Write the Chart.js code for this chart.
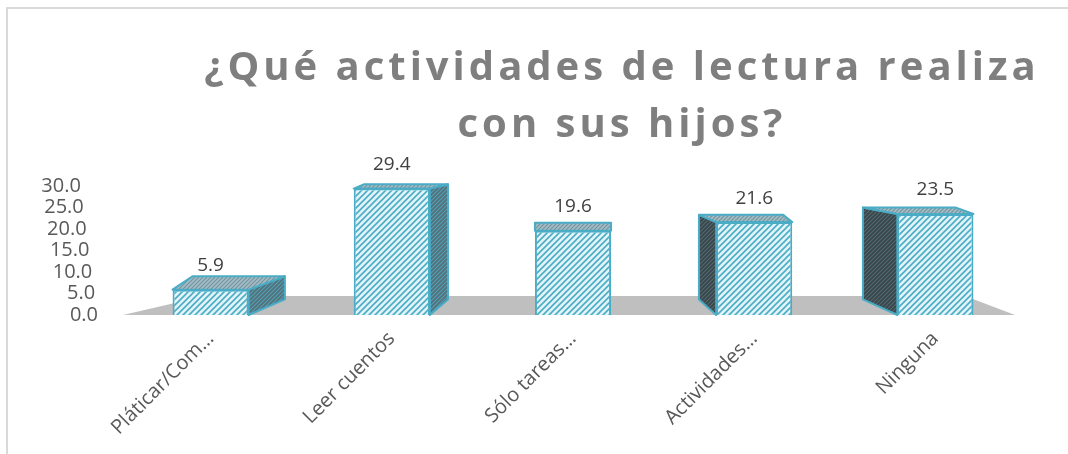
<!DOCTYPE html>
<html>
<head>
<meta charset="utf-8">
<script src="https://cdn.jsdelivr.net/npm/chart.js@4.4.0/dist/chart.umd.min.js"></script>
<style>
  html, body { margin: 0; padding: 0; background: #fff; }
  #wrap { width: 1068px; height: 454px; position: relative; }
</style>
</head>
<body>
<div id="wrap"><canvas id="myChart"></canvas></div>
<script>
// datos del grafico
const categories = ['Pláticar/Com…', 'Leer cuentos', 'Sólo tareas…', 'Actividades…', 'Ninguna'];
const values = [5.9, 29.4, 19.6, 21.6, 23.5];
const yTicks = [0, 5, 10, 15, 20, 25, 30];
const titleLines = ['¿Qué actividades de lectura realiza', 'con sus hijos?'];

const teal = '#4bacc6';

// pattern rayado diagonal
function hatch(bg, fg, size, lw) {
    const c = document.createElement('canvas');
    c.width = size; c.height = size;
    const g = c.getContext('2d');
    g.fillStyle = bg;
    g.fillRect(0, 0, size, size);
    g.strokeStyle = fg;
    g.lineWidth = lw;
    g.beginPath();
    g.moveTo(0, size); g.lineTo(size, 0);
    g.moveTo(-1, 1); g.lineTo(1, -1);
    g.moveTo(size - 1, size + 1); g.lineTo(size + 1, size - 1);
    g.stroke();
    return g.createPattern(c, 'repeat');
}

const ctx = document.getElementById('myChart').getContext('2d');
const frontFill = hatch('#e2f4f8', teal, 6, 1.6);
const rightFill = hatch('#56707a', '#4e9fb5', 4, 1.2);
const leftFill = hatch('#3a4449', '#4f6a73', 4, 1.2);
const topFill = hatch('#a8bcc3', '#6e96a3', 4, 1.2);

// profundidad aproximada tipo excel 3D
function depth(cx, y, area) {
    const mid = (area.left + area.right) / 2;
    const d = cx - mid;
    return {
        dxL: -0.075 * d - 0.02 * Math.abs(d),
        dxR: -0.075 * d + 0.025 * Math.abs(d),
        dy: -(4 + 0.09 * (y - area.top))
    };
}

function poly(c, pts, fill) {
    c.beginPath();
    c.moveTo(pts[0][0], pts[0][1]);
    for (let i = 1; i < pts.length; i++) c.lineTo(pts[i][0], pts[i][1]);
    c.closePath();
    c.fillStyle = fill;
    c.fill();
    c.stroke();
}

const box3d = {
    id: 'box3d',
    beforeDraw(chart) {
        const c = chart.ctx;
        c.save();
        c.strokeStyle = '#d9d9d9';
        c.lineWidth = 2;
        c.strokeRect(7, 8, chart.width + 20, chart.height + 20);

        // titulo
        c.fillStyle = '#7f7f7f';
        c.font = 'bold 40px "Open Sans"';
        c.letterSpacing = '4px';
        c.textAlign = 'center';
        c.textBaseline = 'alphabetic';
        c.fillText(titleLines[0], 622, 80);
        c.fillText(titleLines[1], 622, 137);
        c.restore();
    },
    beforeDatasetsDraw(chart) {
        const c = chart.ctx;
        const a = chart.chartArea;
        c.save();
        // piso
        c.fillStyle = '#bfbfbf';
        c.beginPath();
        c.moveTo(a.left + 3, a.bottom);
        c.lineTo(a.left + 85, a.bottom - 19);
        c.lineTo(a.right - 61, a.bottom - 19);
        c.lineTo(a.right - 11, a.bottom);
        c.closePath();
        c.fill();

        c.strokeStyle = teal;
        c.lineWidth = 2;
        c.lineJoin = 'round';
        chart.getDatasetMeta(0).data.forEach((bar) => {
            const l = bar.x - bar.width / 2, r = bar.x + bar.width / 2;
            const t = bar.y, b = bar.base;
            const dt = depth(bar.x, t, a), db = depth(bar.x, b, a);
            if (dt.dxR > 0) {
                poly(c, [[r, t], [r + dt.dxR, t + dt.dy], [r + db.dxR, b + db.dy], [r, b]], rightFill);
            }
            if (dt.dxL < 0) {
                poly(c, [[l, t], [l + dt.dxL, t + dt.dy], [l + db.dxL, b + db.dy], [l, b]], leftFill);
            }
            poly(c, [[l, t], [l + dt.dxL, t + dt.dy], [r + dt.dxR, t + dt.dy], [r, t]], topFill);
        });
        c.restore();
    },
    afterDatasetsDraw(chart) {
        const c = chart.ctx;
        const a = chart.chartArea;
        c.save();
        c.font = '19px "Open Sans"';
        c.fillStyle = '#404040';
        c.textAlign = 'center';
        c.textBaseline = 'middle';
        chart.getDatasetMeta(0).data.forEach((bar, i) => {
            c.fillText(values[i].toFixed(1), bar.x, bar.y - 24);
        });

        // etiquetas eje y escalonadas
        c.font = '20px "Open Sans"';
        c.fillStyle = '#595959';
        c.textAlign = 'right';
        yTicks.forEach((v) => {
            const y = chart.scales.y.getPixelForValue(v);
            c.fillText(v.toFixed(1), a.left - 22 - v * 0.57, y);
        });
        c.restore();
    }
};

const myChart = new Chart(ctx, {
    type: 'bar',
    data: {
        labels: categories,
        datasets: [{
            data: values,
            backgroundColor: frontFill,
            borderColor: teal,
            borderWidth: 2,
            barPercentage: 0.42,
            categoryPercentage: 1
        }]
    },
    options: {
        responsive: true,
        maintainAspectRatio: false,
        animation: false,
        devicePixelRatio: 1,
        layout: { padding: { top: 186, right: 42, left: 0, bottom: 0 } },
        plugins: {
            legend: { display: false },
            title: { display: false },
            tooltip: { enabled: false }
        },
        scales: {
            x: {
                grid: { display: false },
                border: { display: false },
                ticks: {
                    autoSkip: false,
                    minRotation: 45,
                    maxRotation: 45,
                    padding: 4,
                    color: '#595959',
                    font: { family: 'Open Sans', size: 20 }
                },
                afterFit(scale) { scale.height = 139; }
            },
            y: {
                min: 0,
                max: 30,
                grid: { display: false },
                border: { display: false },
                ticks: { display: false },
                afterFit(scale) { scale.width = 120; }
            }
        }
    },
    plugins: [box3d]
});
</script>
</body>
</html>
